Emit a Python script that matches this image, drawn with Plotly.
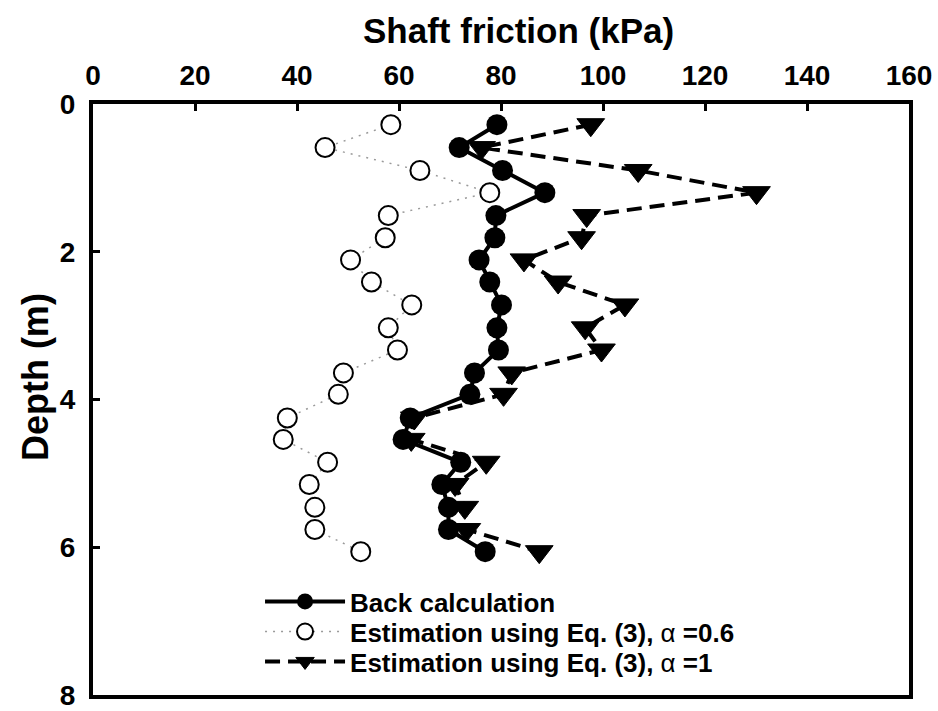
import plotly.graph_objects as go

depth = [0.28, 0.59, 0.90, 1.20, 1.51, 1.81, 2.11, 2.41, 2.72, 3.03,
         3.33, 3.64, 3.93, 4.25, 4.54, 4.85, 5.15, 5.46, 5.76, 6.06]

back_calc = [79.2, 71.8, 80.3, 88.6, 79.0, 78.8, 75.7, 77.8, 80.1, 79.2,
             79.5, 74.8, 73.9, 62.2, 60.8, 72.1, 68.4, 69.7, 69.7, 76.9]

est_a06 = [58.4, 45.5, 64.1, 77.8, 57.9, 57.3, 50.5, 54.6, 62.5, 57.9,
           59.7, 49.1, 48.1, 38.1, 37.3, 46.0, 42.4, 43.5, 43.5, 52.5]

est_a1 = [97.6, 76.2, 106.9, 130.1, 96.8, 95.8, 84.5, 91.2, 104.3, 96.5,
          99.7, 82.1, 80.5, 63.0, 62.4, 77.1, 71.0, 72.9, 73.3, 87.5]

x_ticks = [0, 20, 40, 60, 80, 100, 120, 140, 160]
y_ticks = [0, 2, 4, 6, 8]

FONT = "Liberation Sans, Arial, sans-serif"
ALPHA = "<span style='font-weight:normal'>α</span>"

fig = go.Figure()

fig.add_trace(go.Scatter(
    x=est_a06, y=depth, mode="lines+markers",
    name=f"Estimation using Eq. (3), {ALPHA} =0.6",
    line=dict(color="#9a9a9a", width=1.5, dash="2px,6px"),
    marker=dict(symbol="circle", size=19, color="white",
                line=dict(color="black", width=2)),
    legend="legend2",
))

fig.add_trace(go.Scatter(
    x=est_a1, y=depth, mode="lines+markers",
    name=f"Estimation using Eq. (3), {ALPHA} =1",
    line=dict(color="black", width=4, dash="15px,8px"),
    marker=dict(symbol="triangle-down", size=24, color="black",
                line=dict(color="black", width=1)),
    legend="legend3",
))

fig.add_trace(go.Scatter(
    x=back_calc, y=depth, mode="lines+markers",
    name="Back calculation",
    line=dict(color="black", width=4),
    marker=dict(symbol="circle", size=21, color="black"),
    legend="legend",
))

legend_font = dict(family=FONT, size=26, color="black", weight="bold")


def leg(y):
    return dict(x=0.2047, y=y, xanchor="left", yanchor="top",
                bgcolor="rgba(0,0,0,0)", borderwidth=0,
                font=legend_font, itemwidth=80)


fig.update_layout(
    width=938, height=711,
    margin=dict(l=93, r=29, t=104, b=16),
    paper_bgcolor="white", plot_bgcolor="white",
    font=dict(family=FONT, size=26, color="black", weight="bold"),
    showlegend=True,
    legend=leg(0.198),
    legend2=leg(0.147),
    legend3=leg(0.0964),
)

fig.update_xaxes(
    side="top", range=[0, 160], tickvals=x_ticks,
    ticktext=[str(v) for v in x_ticks],
    ticks="inside", ticklen=7, tickwidth=2.5, tickcolor="black",
    showline=True, linewidth=4, linecolor="black", mirror=True,
    showgrid=False, zeroline=False, automargin=False,
    ticklabeloverflow="allow",
    tickfont=dict(family=FONT, size=28, color="black", weight="bold"),
    ticklabelstandoff=4,
)

fig.update_yaxes(
    range=[8, 0], tickvals=y_ticks, ticktext=[str(v) for v in y_ticks],
    ticks="inside", ticklen=7, tickwidth=2.5, tickcolor="black",
    showline=True, linewidth=4, linecolor="black", mirror=True,
    showgrid=False, zeroline=False, automargin=False,
    ticklabeloverflow="allow",
    tickfont=dict(family=FONT, size=28, color="black", weight="bold"),
    ticklabelstandoff=8,
)

# axis titles (placed as annotations to match the reference offsets)
fig.add_annotation(
    text="Shaft friction (kPa)", xref="paper", yref="paper",
    x=0.522, y=1.125, xanchor="center", yanchor="middle", showarrow=False,
    font=dict(family=FONT, size=35, color="black", weight="bold"),
)
fig.add_annotation(
    text="Depth (m)", xref="paper", yref="paper", textangle=-90,
    x=-0.071, y=0.538, xanchor="center", yanchor="middle", showarrow=False,
    font=dict(family=FONT, size=36, color="black", weight="bold"),
)

fig.write_html("out.html")
